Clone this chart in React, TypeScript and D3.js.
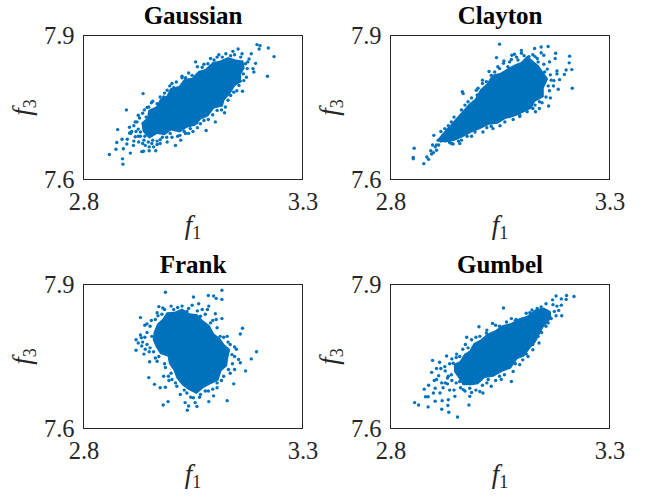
import { useEffect, useRef } from 'react';
import * as d3 from 'd3';

type Pt = [number, number];

const xTicks = [2.8, 3.3];
const yTicks = [7.6, 7.9];

// loose points: [f1, f3]
const gaussianPoints: Pt[] = [
  [2.859,7.652],[2.890,7.632],[2.889,7.643],[2.874,7.663],[2.876,7.677],[2.891,7.664],[2.888,7.684],[2.878,7.704],
  [2.907,7.655],[2.899,7.674],[2.900,7.684],[2.898,7.745],[2.914,7.671],[2.908,7.696],[2.905,7.709],[2.933,7.658],
  [2.937,7.659],[2.950,7.660],[2.965,7.660],[2.936,7.779],[2.939,7.745],[2.925,7.734],[2.922,7.720],[2.958,7.763],
  [2.983,7.772],[3.010,7.671],[2.991,7.678],[2.968,7.673],[3.040,7.696],[3.080,7.702],[3.059,7.718],[3.101,7.720],
  [3.122,7.739],[3.163,7.784],[3.143,7.782],[3.220,7.815],[3.235,7.856],[3.222,7.874],[3.196,7.881],[3.203,7.879],
  [3.201,7.872],[3.183,7.862],[3.193,7.842],[3.187,7.831],[3.189,7.824],[3.172,7.813],[3.178,7.851],[3.162,7.862],
  [3.153,7.872],[3.141,7.867],[3.109,7.860],[3.084,7.841],[3.056,7.845],[3.025,7.812],[3.002,7.800],
  [2.930,7.699],[2.943,7.730],[2.949,7.751],[2.968,7.758],[2.991,7.786],[3.006,7.791],[3.033,7.812],[3.048,7.817],
  [3.071,7.834],[3.098,7.849],[3.117,7.855],[3.136,7.858],[3.159,7.855],[3.170,7.841],[3.174,7.831],[3.166,7.806],
  [3.155,7.796],[3.136,7.775],[3.124,7.751],[3.105,7.744],[3.075,7.723],[3.067,7.716],[3.044,7.706],[3.033,7.696],
  [2.998,7.696],[2.975,7.683],[2.956,7.675],[2.941,7.671],[2.926,7.678],[2.918,7.689],
  [2.920,7.700],[2.915,7.712],[2.925,7.705],[2.930,7.690],[2.938,7.682],[2.948,7.678],[2.958,7.682],[2.968,7.680],
  [2.980,7.688],[2.990,7.688],[3.002,7.688],[3.015,7.690],[3.022,7.682],[3.030,7.700],[2.910,7.700],[2.905,7.697],
  [2.918,7.720],[2.928,7.728],[2.935,7.738],[2.945,7.750],[2.955,7.760],[2.962,7.745],[2.975,7.772],[2.985,7.780],
  [2.997,7.795],[3.012,7.803],[3.025,7.815],[3.040,7.822],[3.060,7.835],[3.075,7.840],[3.090,7.852],[3.105,7.855],
  [3.125,7.862],[3.145,7.860],[3.175,7.845],[3.165,7.820],[3.158,7.805],[3.150,7.785],[3.130,7.765],[3.115,7.745],
  [3.095,7.735],[3.085,7.725],[3.060,7.708],[3.050,7.700],[3.020,7.692],[2.940,7.690],[2.925,7.690],[2.915,7.680],
  [2.935,7.675],[2.950,7.668],[2.960,7.668],[2.975,7.675],
];
const claytonPoints: Pt[] = [
  [2.854,7.665],[2.852,7.646],[2.852,7.643],[2.876,7.633],[2.883,7.647],[2.887,7.642],[2.894,7.653],[2.898,7.656],
  [2.905,7.661],[2.892,7.660],[2.896,7.672],[2.899,7.692],[2.905,7.672],[2.909,7.682],[3.049,7.882],[3.042,7.854],
  [2.966,7.779],[2.964,7.783],[2.996,7.786],[3.010,7.807],[3.030,7.817],[3.049,7.831],[3.059,7.847],[3.077,7.859],
  [3.083,7.861],[3.076,7.850],[3.099,7.869],[3.099,7.863],[3.129,7.873],[3.144,7.876],[3.160,7.877],[3.144,7.864],
  [3.130,7.856],[3.150,7.859],[3.177,7.863],[3.176,7.852],[3.163,7.845],[3.180,7.826],[3.180,7.820],[3.209,7.857],
  [3.208,7.843],[3.214,7.829],[3.201,7.828],[3.197,7.819],[3.186,7.808],[3.173,7.806],[3.215,7.790],[3.183,7.788],
  [3.163,7.785],[3.161,7.753],[3.146,7.760],[3.140,7.748],[3.131,7.741],[3.112,7.741],[3.119,7.751],[3.095,7.731],
  [3.072,7.731],[3.034,7.706],[3.011,7.699],[2.985,7.690],[2.958,7.675],[2.939,7.675],
  [2.924,7.706],[2.939,7.720],[2.962,7.745],[2.977,7.762],[2.998,7.776],[3.019,7.804],[3.038,7.824],[3.068,7.835],
  [3.091,7.849],[3.116,7.856],[3.137,7.845],[3.152,7.824],[3.167,7.807],[3.155,7.772],[3.125,7.748],[3.095,7.734],
  [3.061,7.720],[3.030,7.711],[2.993,7.699],[2.962,7.682],[2.943,7.674],[2.921,7.682],
  [3.025,7.825],[3.045,7.835],[3.058,7.842],[3.072,7.845],[3.088,7.855],[3.105,7.858],[3.125,7.860],[3.135,7.852],
  [3.150,7.840],[3.158,7.830],[3.165,7.818],[3.160,7.795],[3.172,7.795],[3.165,7.770],[3.140,7.762],[3.130,7.755],
  [3.105,7.745],[3.080,7.725],[3.050,7.712],[3.020,7.708],[2.975,7.690],[2.955,7.680],[2.935,7.677],[2.915,7.680],
  [2.910,7.672],[2.902,7.668],[2.915,7.700],[2.932,7.712],[2.945,7.730],[2.970,7.755],[2.985,7.770],[3.000,7.790],[3.010,7.800],
];
const frankPoints: Pt[] = [
  [2.987,7.884],[3.051,7.874],[3.085,7.877],[3.097,7.876],[3.103,7.871],[3.116,7.888],[3.116,7.869],[3.063,7.860],
  [3.086,7.855],[3.083,7.848],[3.101,7.839],[3.116,7.829],[3.103,7.827],[3.163,7.809],[3.158,7.797],[3.195,7.760],
  [3.183,7.745],[3.170,7.720],[3.149,7.765],[3.128,7.792],[3.143,7.693],[3.128,7.658],[3.158,7.737],[3.154,7.744],
  [3.145,7.723],[3.086,7.656],[3.059,7.646],[3.055,7.654],[3.037,7.638],[3.040,7.647],[3.032,7.654],[2.993,7.656],
  [2.982,7.649],[2.975,7.685],[2.987,7.686],[2.962,7.692],[2.949,7.706],[2.983,7.709],[2.920,7.785],[2.920,7.763],
  [2.930,7.831],[2.932,7.789],[2.933,7.772],[2.951,7.739],[2.964,7.747],[2.941,7.765],[2.945,7.818],[2.968,7.841],
  [2.972,7.854],[2.981,7.851],[3.000,7.855],[3.025,7.855],[3.048,7.857],[3.071,7.848],[3.105,7.685],[3.097,7.668],
  [3.067,7.671],[3.021,7.671],[3.002,7.702],
  [2.952,7.813],[2.964,7.827],[2.979,7.838],[3.006,7.848],[3.036,7.844],[3.067,7.834],[3.090,7.820],[3.112,7.792],
  [3.135,7.775],[3.139,7.754],[3.131,7.723],[3.120,7.709],[3.105,7.695],[3.078,7.678],[3.051,7.664],[3.036,7.674],
  [3.013,7.688],[2.994,7.709],[2.987,7.727],[2.968,7.740],[2.952,7.768],[2.956,7.792],
  [2.945,7.800],[2.940,7.790],[2.935,7.780],[2.945,7.775],[2.950,7.760],[2.938,7.755],[2.925,7.778],[2.930,7.795],
  [2.940,7.815],[2.955,7.825],[2.970,7.835],[2.985,7.848],[3.015,7.852],[3.040,7.850],[3.060,7.845],[3.078,7.838],
  [3.095,7.825],[3.105,7.810],[3.120,7.790],[3.130,7.780],[3.145,7.770],[3.145,7.750],[3.140,7.735],[3.135,7.715],
  [3.115,7.700],[3.095,7.682],[3.085,7.678],[3.065,7.665],[3.045,7.665],[3.030,7.680],[3.010,7.695],[3.000,7.715],
  [2.995,7.700],[2.985,7.735],[2.972,7.750],[2.960,7.760],
];
const gumbelPoints: Pt[] = [
  [2.855,7.654],[2.864,7.649],[2.886,7.645],[2.917,7.640],[2.933,7.634],[2.953,7.624],[2.931,7.648],[2.902,7.657],
  [2.918,7.658],[2.932,7.660],[2.947,7.667],[2.886,7.666],[2.880,7.666],[2.877,7.682],[2.887,7.690],[2.898,7.674],
  [2.913,7.674],[2.902,7.684],[2.905,7.702],[2.894,7.717],[2.896,7.742],[2.912,7.738],[2.928,7.751],[2.924,7.729],
  [2.932,7.709],[2.917,7.695],[2.930,7.693],[2.951,7.755],[2.974,7.790],[2.971,7.775],[3.002,7.812],[3.033,7.819],
  [3.058,7.851],[3.076,7.829],[3.123,7.847],[3.178,7.876],[3.202,7.877],[3.219,7.875],[3.201,7.869],[3.190,7.857],
  [3.184,7.846],[3.191,7.835],[3.171,7.858],[3.167,7.829],[3.139,7.778],[3.114,7.750],[3.095,7.733],[3.076,7.698],
  [3.053,7.702],[3.030,7.688],[3.011,7.674],[2.979,7.649],[2.981,7.667],[2.966,7.681],
  [2.943,7.736],[2.958,7.750],[2.977,7.768],[3.004,7.792],[3.019,7.799],[3.049,7.813],[3.087,7.827],[3.118,7.841],
  [3.144,7.853],[3.163,7.841],[3.174,7.844],[3.155,7.813],[3.137,7.792],[3.125,7.764],[3.102,7.743],[3.080,7.719],
  [3.049,7.709],[3.023,7.702],[3.004,7.677],[2.981,7.684],[2.958,7.698],[2.939,7.712],
  [2.935,7.735],[2.925,7.720],[2.930,7.705],[2.940,7.700],[2.950,7.695],[2.960,7.685],[2.970,7.678],[2.985,7.675],
  [2.995,7.680],[3.010,7.690],[3.020,7.695],[3.040,7.700],[3.060,7.712],[3.085,7.735],[3.110,7.755],[3.125,7.775],
  [3.145,7.800],[3.160,7.820],[3.178,7.835],[3.180,7.855],[3.190,7.870],[3.170,7.868],[3.155,7.860],[3.135,7.850],
  [3.110,7.840],[3.085,7.825],[3.065,7.822],[3.040,7.815],[3.020,7.805],[2.995,7.790],[2.985,7.785],[2.965,7.765],
  [2.950,7.748],[2.940,7.745],[2.910,7.710],[2.900,7.700],[2.920,7.685],[2.935,7.680],[2.945,7.680],[2.915,7.725],
  [2.905,7.725],[2.925,7.695],
];

// solid middle of each cloud, dots overlap too much to read one by one so only the outline is traced
const gaussianCore: Pt[] = [
  [2.935,7.700],[2.932,7.718],[2.945,7.728],[2.948,7.745],[2.966,7.752],[2.975,7.768],[2.990,7.775],[2.998,7.790],
  [3.018,7.795],[3.030,7.810],[3.048,7.812],[3.062,7.826],[3.078,7.830],[3.095,7.845],[3.112,7.848],[3.130,7.855],
  [3.148,7.850],[3.165,7.848],[3.168,7.832],[3.160,7.820],[3.160,7.803],[3.146,7.795],[3.135,7.778],[3.122,7.765],
  [3.118,7.752],[3.098,7.748],[3.085,7.732],[3.068,7.725],[3.055,7.712],[3.036,7.708],[3.020,7.698],[3.000,7.702],
  [2.985,7.692],[2.968,7.695],[2.950,7.685],
];
const claytonCore: Pt[] = [
  [2.905,7.680],[2.915,7.692],[2.925,7.703],[2.938,7.715],[2.950,7.728],[2.962,7.740],[2.978,7.757],[2.993,7.768],
  [3.005,7.788],[3.020,7.800],[3.032,7.818],[3.050,7.822],[3.068,7.832],[3.085,7.840],[3.098,7.845],[3.112,7.858],
  [3.125,7.848],[3.138,7.838],[3.148,7.825],[3.160,7.810],[3.150,7.790],[3.150,7.772],[3.130,7.762],[3.122,7.748],
  [3.100,7.738],[3.085,7.732],[3.062,7.726],[3.045,7.716],[3.025,7.714],[3.005,7.705],[2.985,7.698],[2.965,7.688],
  [2.945,7.680],[2.925,7.677],
];
const frankCore: Pt[] = [
  [2.960,7.800],[2.968,7.818],[2.980,7.828],[2.990,7.842],[3.008,7.843],[3.025,7.850],[3.042,7.840],[3.060,7.838],
  [3.072,7.826],[3.088,7.815],[3.098,7.798],[3.112,7.788],[3.122,7.775],[3.135,7.765],[3.130,7.745],[3.128,7.730],
  [3.115,7.720],[3.108,7.700],[3.090,7.692],[3.075,7.685],[3.058,7.672],[3.040,7.680],[3.025,7.690],[3.012,7.705],
  [3.005,7.722],[2.995,7.735],[2.992,7.750],[2.975,7.755],[2.965,7.770],[2.958,7.785],
];
const gumbelCore: Pt[] = [
  [2.945,7.718],[2.945,7.735],[2.958,7.740],[2.968,7.755],[2.980,7.762],[2.990,7.778],[3.005,7.785],[3.020,7.797],
  [3.040,7.805],[3.055,7.815],[3.075,7.820],[3.095,7.830],[3.112,7.835],[3.130,7.848],[3.150,7.852],[3.165,7.845],
  [3.168,7.830],[3.150,7.812],[3.140,7.795],[3.132,7.780],[3.120,7.768],[3.105,7.750],[3.090,7.745],[3.075,7.725],
  [3.055,7.718],[3.035,7.708],[3.015,7.705],[3.000,7.692],[2.985,7.690],[2.965,7.690],[2.955,7.705],
];

const BLUE = '#0072BD';
const INK = '#262626';
const SERIF = '"Liberation Serif", "Times New Roman", serif';

const Panel = ({ title, left, top, points, core }: { title: string; left: number; top: number; points: Pt[]; core: Pt[] }) => {
  const ref = useRef<SVGGElement>(null);
  const w = 219;
  const h = 144;

  useEffect(() => {
    const g = d3.select(ref.current);
    g.selectAll('*').remove();

    const x = d3.scaleLinear().domain([2.8, 3.3]).range([0, w]);
    const y = d3.scaleLinear().domain([7.6, 7.9]).range([h, 0]);

    g.append('rect').attr('width', w).attr('height', h).attr('fill', '#fff').attr('stroke', INK).attr('stroke-width', 1);

    const outline = d3.line<Pt>().x(d => x(d[0])).y(d => y(d[1])).curve(d3.curveLinearClosed);
    g.append('path').attr('d', outline(core)).attr('fill', BLUE);

    g.selectAll('.dot')
      .data(points)
      .join('circle')
      .attr('class', 'dot')
      .attr('cx', d => x(d[0]))
      .attr('cy', d => y(d[1]))
      .attr('r', 1.7)
      .attr('fill', BLUE);

    const xAxis = d3.axisBottom(x).tickValues(xTicks).tickFormat(d3.format('.1f') as any).tickSize(0).tickPadding(13);
    const yAxis = d3.axisLeft(y).tickValues(yTicks).tickFormat(d3.format('.1f') as any).tickSize(0).tickPadding(9);
    const gx = g.append('g').attr('transform', `translate(0,${h})`).call(xAxis);
    const gy = g.append('g').call(yAxis);
    [gx, gy].forEach(a => {
      a.select('.domain').remove();
      a.selectAll('text').attr('font-family', SERIF).attr('font-size', 24.5).attr('fill', INK);
    });
  }, [points, core]);

  return (
    <g transform={`translate(${left},${top})`}>
      <g ref={ref} />
      <text x={w / 2} y={-11.5} textAnchor="middle" fontFamily={SERIF} fontWeight="bold" fontSize={25} fill="#000">{title}</text>
      <text x={w / 2} y={h + 54} textAnchor="middle" fontFamily={SERIF} fontSize={27} fill={INK}>
        <tspan fontStyle="italic">f</tspan><tspan fontSize={18} dy={5}>1</tspan>
      </text>
      <text transform={`translate(-53,${h / 2}) rotate(-90)`} textAnchor="middle" fontFamily={SERIF} fontSize={27} fill={INK}>
        <tspan fontStyle="italic">f</tspan><tspan fontSize={18} dy={5}>3</tspan>
      </text>
    </g>
  );
};

export default function App() {
  return (
    <svg width={645} height={498} style={{ position: 'absolute', left: 0, top: 0, background: '#fff' }}>
      <Panel title="Gaussian" left={83.5} top={35.5} points={gaussianPoints} core={gaussianCore} />
      <Panel title="Clayton" left={390.5} top={35.5} points={claytonPoints} core={claytonCore} />
      <Panel title="Frank" left={83.5} top={284.5} points={frankPoints} core={frankCore} />
      <Panel title="Gumbel" left={390.5} top={284.5} points={gumbelPoints} core={gumbelCore} />
    </svg>
  );
}
